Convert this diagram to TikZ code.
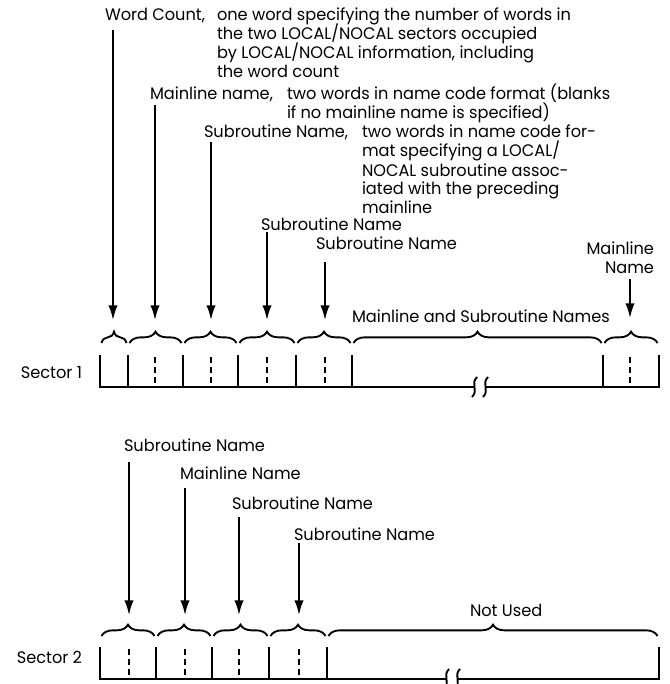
\documentclass[tikz,border=0pt]{standalone}
\usepackage{fontspec}
\setmainfont{Poppins}[FakeStretch=0.97]
\usetikzlibrary{arrows.meta, decorations.pathreplacing, positioning}
\tikzset{>={Latex[length=11pt,width=7pt]}}
\newcommand{\lblfont}{\fontsize{12.5}{14.25}\selectfont\lineskiplimit=-100pt\relax}

\begin{document}
\begin{tikzpicture}[x=0.75pt, y=-0.75pt, line width=1.4pt,
    every node/.style={inner sep=0pt, outer sep=0pt, font=\lblfont},
    txt/.style={anchor=base west, align=left},
    field/.style={decorate, decoration={brace, amplitude=8.5pt}},
    halfword/.style={line width=1.3pt, dash pattern=on 4.5pt off 3pt}]
  \useasboundingbox (0,0) rectangle (669,684);

  % START: Sector 1 labels ---------------------------
  % (a block of lines sits on the baseline of its last line)
  \node[txt] (wc) at (105,21) {Word Count,};
  \node[txt] (wc_txt) at (217,78) {one word specifying the number of words in\\
    the two LOCAL/NOCAL sectors occupied\\
    by LOCAL/NOCAL information, including\\
    the word count};
  \node[txt] (ml) at (150,100) {Mainline name,};
  \node[txt] (ml_txt) at (287,119) {two words in name code format (blanks\\
    if no mainline name is specified)};
  \node[txt] (sr) at (204,138) {Subroutine Name,};
  \node[txt] (sr_txt) at (362,214) {two words in name code for-\\
    mat specifying a LOCAL/\\
    NOCAL subroutine assoc-\\
    iated with the preceding\\
    mainline};
  \node[txt] (sr_4) at (261,230) {Subroutine Name};
  \node[txt] (sr_5) at (316,249) {Subroutine Name};
  \node[anchor=base east, align=right] (ml_end) at (654,273) {Mainline\\Name};
  \node[txt] (names) at (352,322) {Mainline and Subroutine Names};
  \node[anchor=base east] (sec1) at (82,378) {Sector 1};
  % END: Sector 1 labels -----------------------------

  % START: Sector 1 arrows ---------------------------
  \coordinate (a1) at (113,30);  \coordinate (b1) at (113,320);
  \coordinate (a2) at (155,105); \coordinate (b2) at (155,320);
  \coordinate (a3) at (211,142); \coordinate (b3) at (211,320);
  \coordinate (a4) at (267,232); \coordinate (b4) at (267,320);
  \coordinate (a5) at (325,262); \coordinate (b5) at (325,320);
  \coordinate (a6) at (630,279); \coordinate (b6) at (630,318);
  \foreach \n in {1,...,6}
    \draw[->] (a\n) -- (b\n);
  % END: Sector 1 arrows -----------------------------

  % START: Sector 1 fields ---------------------------
  \foreach \a/\b in {100/128, 128/183, 183/238, 238/296, 296/352, 352/603, 603/659}
    \draw[field] (\a+1.5,343) -- (\b-1.5,343);
  \draw (100,355) -- (100,387) -- (474,387);
  \draw (486,387) -- (659,387) -- (659,355);
  \foreach \x in {128, 183, 238, 296, 352, 603}
    \draw (\x,355) -- (\x,387);
  \foreach \x in {155, 211, 267, 325, 630}
    \draw[halfword] (\x,357) -- (\x,387);
  % break in the line
  \draw (477,377) .. controls (470,384) and (479,390) .. (472,397);
  \draw (488,377) .. controls (481,384) and (490,390) .. (483,397);
  % END: Sector 1 fields -----------------------------

  % START: Sector 2 labels ---------------------------
  \node[txt] (s2_sr1) at (124,451) {Subroutine Name};
  \node[txt] (s2_ml) at (180,479) {Mainline Name};
  \node[txt] (s2_sr2) at (232,509) {Subroutine Name};
  \node[txt] (s2_sr3) at (294,540) {Subroutine Name};
  \node[txt] (unused) at (470,616) {Not Used};
  \node[anchor=base east] (sec2) at (82,663) {Sector 2};
  % END: Sector 2 labels -----------------------------

  % START: Sector 2 arrows ---------------------------
  \coordinate (c1) at (129,462); \coordinate (d1) at (129,615);
  \coordinate (c2) at (185,488); \coordinate (d2) at (185,615);
  \coordinate (c3) at (239,517); \coordinate (d3) at (239,615);
  \coordinate (c4) at (299,543); \coordinate (d4) at (299,615);
  \foreach \n in {1,...,4}
    \draw[->] (c\n) -- (d\n);
  % END: Sector 2 arrows -----------------------------

  % START: Sector 2 fields ---------------------------
  \foreach \a/\b in {100/156, 156/212, 212/269, 269/327, 327/659}
    \draw[field] (\a+1.5,636) -- (\b-1.5,636);
  \draw (100,647) -- (100,679) -- (446,679);
  \draw (458,679) -- (659,679) -- (659,647);
  \foreach \x in {156, 212, 269, 327}
    \draw (\x,647) -- (\x,679);
  \foreach \x in {129, 185, 239, 299}
    \draw[halfword] (\x,649) -- (\x,679);
  % break in the line
  \draw (449,669) .. controls (442,676) and (451,682) .. (444,689);
  \draw (460,669) .. controls (453,676) and (462,682) .. (455,689);
  % END: Sector 2 fields -----------------------------
\end{tikzpicture}
\end{document}
